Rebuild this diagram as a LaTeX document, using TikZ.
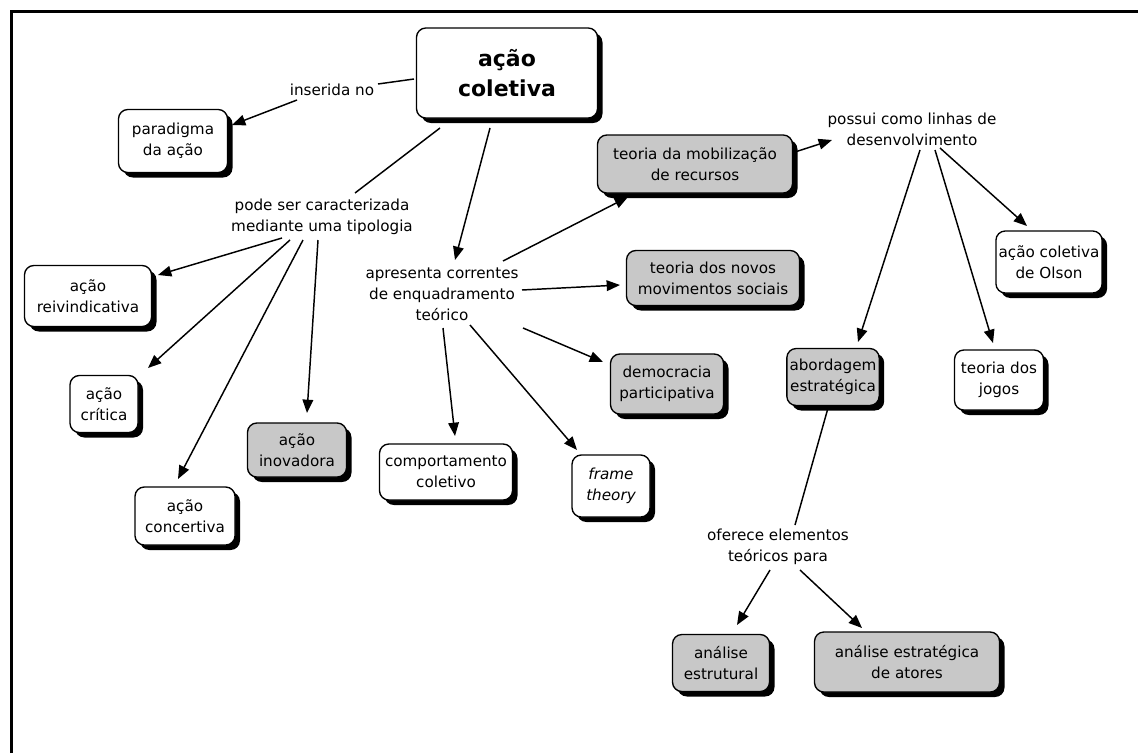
\documentclass[tikz,border=0pt]{standalone}
\usepackage{fontspec}
\setmainfont{DejaVu Sans}
\usetikzlibrary{calc,shadows,arrows.meta}
\definecolor{boxgray}{RGB}{200,200,200}
\begin{document}
\begin{tikzpicture}[x=0.75pt,y=-0.75pt,
  sz/.style 2 args={minimum width=#1*0.75pt, minimum height=#2*0.75pt},
  box/.style={draw, line width=1pt, rounded corners=7pt, fill=white, align=center,
    inner sep=2pt, font=\fontsize{11.4}{15.75}\selectfont,
    drop shadow={shadow xshift=3.75pt, shadow yshift=-3.75pt, fill=black, opacity=1}},
  gbox/.style={box, fill=boxgray},
  lbl/.style={align=center, inner sep=0pt, font=\fontsize{11.4}{15.75}\selectfont},
  conn/.style={line width=1.1pt},
  arr/.style={conn, -{Triangle[length=10pt,width=8pt]}}]
\useasboundingbox (0,0) rectangle (1138,753);
% frame
\draw[line width=2.25pt] (11,753) |- (1138,11);

% concepts
\node[box, sz={181}{90}, font=\bfseries\fontsize{16.5}{22.5}\selectfont] (main) at (507,73) {ação\\coletiva};
\node[box, sz={109}{63}] (par) at (173,141) {paradigma\\da ação};
\node[gbox, sz={195}{58}] (mob) at (695,164) {teoria da mobilização\\de recursos};
\node[box, sz={127}{61}] (rei) at (88,296) {ação\\reivindicativa};
\node[box, sz={68}{57}] (cri) at (104,404) {ação\\crítica};
\node[box, sz={100}{58}] (con) at (185,516) {ação\\concertiva};
\node[gbox, sz={99}{54}] (ino) at (297,450) {ação\\inovadora};
\node[box, sz={133}{56}] (com) at (446,472) {comportamento\\coletivo};
\node[box, sz={78}{62}, font=\itshape\fontsize{11.4}{15.75}\selectfont] (fra) at (611,486) {frame\\theory};
\node[gbox, sz={173}{55}] (nov) at (713,278) {teoria dos novos\\movimentos sociais};
\node[gbox, sz={113}{60}] (dem) at (667,384) {democracia\\participativa};
\node[gbox, sz={89}{57}] (abo) at (833,377) {abordagem\\estratégica};
\node[box, sz={89}{60}] (jog) at (999,380) {teoria dos\\jogos};
\node[box, sz={99}{62}] (ols) at (1049,262) {ação coletiva\\de Olson};
\node[gbox, sz={97}{57}] (est) at (721,663) {análise\\estrutural};
\node[gbox, sz={185}{60}] (ate) at (907,662) {análise estratégica\\de atores};

% linking phrases
\node[lbl] (ins) at (332,90) {inserida no};
\node[lbl] (pod) at (322,217) {pode ser caracterizada\\mediante uma tipologia};
\node[lbl] (apr) at (442,294) {apresenta correntes\\de enquadramento\\teórico};
\node[lbl] (pos) at (912,129) {possui como linhas de\\desenvolvimento};
\node[lbl] (ofe) at (778,547) {oferece elementos\\teóricos para};

% connectors
\draw[conn] ($(main)+(-93,6)$) -- ($(ins)+(46,-6)$);
\draw[arr] ($(ins)+(-35,10)$) -- ($(par)+(59,-16)$);
\draw[conn] ($(main)+(-67,55)$) -- ($(pod)+(33,-24)$);
\draw[arr] ($(main)+(-17,55)$) -- ($(apr)+(13,-34)$);
\draw[arr] ($(pod)+(-40,21)$) -- ($(rei)+(70,-21)$);
\draw[arr] ($(pod)+(-32,23)$) -- ($(cri)+(44,-36)$);
\draw[arr] ($(pod)+(-19,23)$) -- ($(con)+(-7,-37)$);
\draw[arr] ($(pod)+(-4,23)$) -- ($(ino)+(10,-37)$);
\draw[arr] ($(apr)+(61,-33)$) -- ($(mob)+(-67,33)$);
\draw[arr] ($(apr)+(80,-4)$) -- ($(nov)+(-93,7)$);
\draw[arr] ($(apr)+(81,34)$) -- ($(dem)+(-64,-22)$);
\draw[arr] ($(apr)+(1,34)$) -- ($(com)+(9,-36)$);
\draw[arr] ($(apr)+(28,31)$) -- ($(fra)+(-34,-36)$);
\draw[arr] ($(mob)+(100,-12)$) -- ($(pos)+(-80,11)$);
\draw[arr] ($(pos)+(8,21)$) -- ($(abo)+(25,-35)$);
\draw[arr] ($(pos)+(23,21)$) -- ($(jog)+(-6,-37)$);
\draw[arr] ($(pos)+(28,19)$) -- ($(ols)+(-22,-36)$);
\draw[conn] ($(abo)+(-5,31)$) -- ($(ofe)+(17,-22)$);
\draw[arr] ($(ofe)+(-8,23)$) -- ($(est)+(16,-38)$);
\draw[arr] ($(ofe)+(22,23)$) -- ($(ate)+(-45,-34)$);
\end{tikzpicture}
\end{document}
